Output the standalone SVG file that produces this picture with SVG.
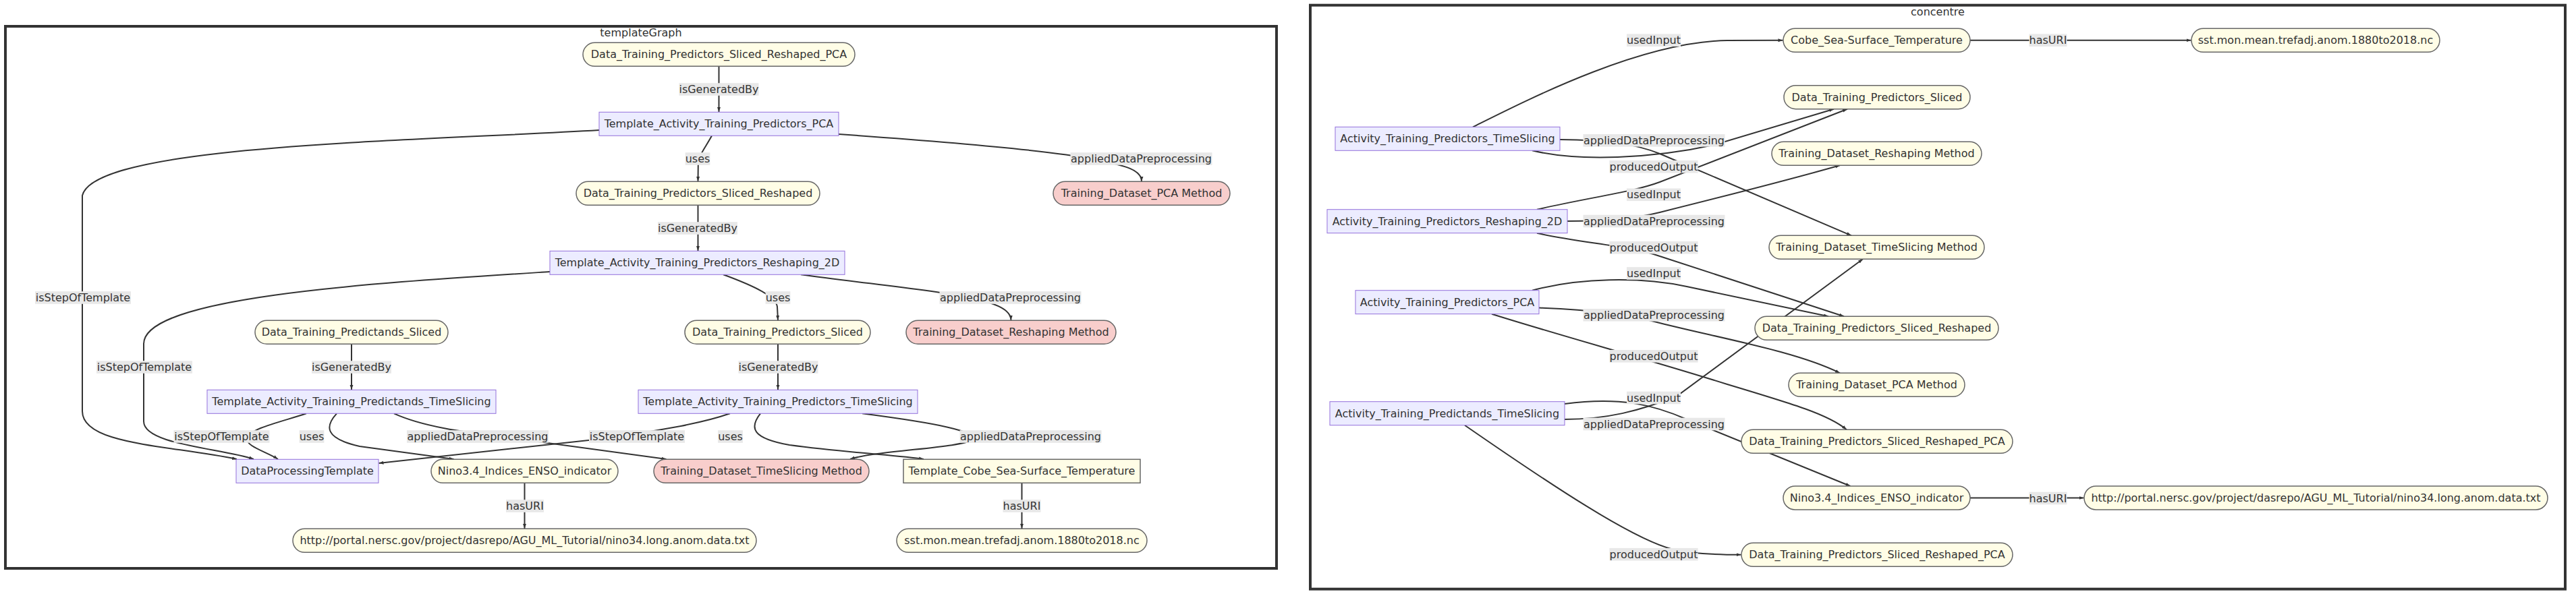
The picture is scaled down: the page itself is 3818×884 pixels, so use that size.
<svg xmlns="http://www.w3.org/2000/svg" width="3818" height="884" viewBox="0 0 3818 884">
<style>
.cluster{fill:#ffffff;stroke:#333333;stroke-width:4px}
.edge{fill:none;stroke:#333333;stroke-width:2px;marker-end:url(#arrow)}
.elbg{fill:#e8e8e8}
text{font-family:"DejaVu Sans",Verdana,sans-serif;font-size:16px;fill:#333333;text-anchor:middle}
.act{fill:#ececff;stroke:#9370db;stroke-width:1px}
.data{fill:#fffde6;stroke:#666666;stroke-width:1.5px}
.method{fill:#f8cecc;stroke:#666666;stroke-width:1.5px}
</style>
<defs>
<marker id="arrow" viewBox="0 0 10 10" refX="10" refY="5" markerUnits="userSpaceOnUse" markerWidth="7" markerHeight="7" orient="auto">
<path d="M0,1.5 L10,5 L0,8.5 z" fill="#333333"/>
</marker>
</defs>
<rect width="3818" height="884" fill="#ffffff"/>
<g id="clusters">
<g id="cluster-templateGraph"><rect class="cluster" x="8" y="39" width="1884" height="804"/><text x="950" y="54">templateGraph</text></g>
<g id="cluster-concentre"><rect class="cluster" x="1942" y="7.7" width="1860" height="866"/><text x="2872" y="22.8">concentre</text></g>
</g>
<g id="connectors">
<path class="edge" d="M1065.5,98.3 L1065.5,166"/>
<path class="edge" d="M1055,201.3 C1045,220 1035,230 1034.8,245 L1034.5,269"/>
<path class="edge" d="M1243,199 C1400,210 1560,224 1620,236 C1670,246 1692,252 1692,269"/>
<path class="edge" d="M888,193 C600,210 140,215 122,290 L122,610 C122,660 250,660 351,681"/>
<path class="edge" d="M1034.5,304.3 L1034.5,372"/>
<path class="edge" d="M815,403 C550,420 213,440 213,510 L213,625 C213,660 330,665 376,681"/>
<path class="edge" d="M1072,407.3 C1120,425 1150,440 1152,455 L1153,475"/>
<path class="edge" d="M1187,407.3 C1280,420 1380,430 1430,440 C1480,450 1498,460 1498.5,475"/>
<path class="edge" d="M521,510.3 L521,578"/>
<path class="edge" d="M1153,510.3 L1153,578"/>
<path class="edge" d="M454,613.3 C420,625 370,635 366,650 C364,662 395,670 412,681"/>
<path class="edge" d="M499,613.3 C482,632 480,650 533,662 L672.5,681"/>
<path class="edge" d="M584,613.3 C625,632 680,640 760,650 L987.5,681"/>
<path class="edge" d="M1082,613.3 C1040,628 990,636 900,650 L561.5,687"/>
<path class="edge" d="M1127,613.3 C1110,635 1115,650 1170,660 C1260,672 1330,675 1369,681"/>
<path class="edge" d="M1278,613.3 C1390,628 1450,640 1440,652 C1430,664 1300,668 1260,681"/>
<path class="edge" d="M777.5,716.3 L777.5,784"/>
<path class="edge" d="M1514.5,716.3 L1514.5,784"/>
<path class="edge" d="M2183,188.3 C2260,150 2430,62 2560,60 L2642.5,59.8"/>
<path class="edge" d="M2920,59.8 L3247.5,59.8"/>
<path class="edge" d="M2312,207 C2380,208 2420,212 2460,228 L2744,349.3"/>
<path class="edge" d="M2271,223.3 C2340,240 2450,235 2540,215 L2718,161.7"/>
<path class="edge" d="M2278,310.7 C2360,292 2420,285 2460,270 L2738,161.7"/>
<path class="edge" d="M2323,328 C2380,328 2420,325 2460,315 C2560,290 2640,270 2727,245.3"/>
<path class="edge" d="M2278,345.7 C2340,360 2420,365 2460,380 L2733,469.3"/>
<path class="edge" d="M2271,430.7 C2340,412 2430,410 2500,425 L2710,469.3"/>
<path class="edge" d="M2281,456.5 C2320,458 2400,462 2452,477 C2540,500 2660,520 2727,553.3"/>
<path class="edge" d="M2211,465.7 C2320,500 2450,535 2560,570 C2660,600 2710,615 2737,637.3"/>
<path class="edge" d="M2319,622 C2380,622 2430,610 2486,587 L2761,384.3"/>
<path class="edge" d="M2319,599 C2400,588 2450,600 2500,622 L2742.5,721"/>
<path class="edge" d="M2171,630.7 C2300,720 2420,800 2480,815 C2510,822 2550,822.8 2580.5,822.8"/>
<path class="edge" d="M2920,738.5 L3088.5,738.5"/>
</g>
<g id="edge-labels">
<g><rect class="elbg" x="1006.5" y="123.2" width="118" height="18.6"/><text x="1065.5" y="138">isGeneratedBy</text></g>
<g><rect class="elbg" x="1015.6" y="226.2" width="36.8" height="18.6"/><text x="1034" y="241">uses</text></g>
<g><rect class="elbg" x="1586.5" y="226.2" width="210" height="18.6"/><text x="1691.5" y="241">appliedDataPreprocessing</text></g>
<g><rect class="elbg" x="975" y="329.2" width="118" height="18.6"/><text x="1034" y="344">isGeneratedBy</text></g>
<g><rect class="elbg" x="52" y="432.2" width="142" height="18.6"/><text x="123" y="447">isStepOfTemplate</text></g>
<g><rect class="elbg" x="1134.6" y="432.2" width="36.8" height="18.6"/><text x="1153" y="447">uses</text></g>
<g><rect class="elbg" x="1392.5" y="432.2" width="210" height="18.6"/><text x="1497.5" y="447">appliedDataPreprocessing</text></g>
<g><rect class="elbg" x="143" y="535.2" width="142" height="18.6"/><text x="214" y="550">isStepOfTemplate</text></g>
<g><rect class="elbg" x="462" y="535.2" width="118" height="18.6"/><text x="521" y="550">isGeneratedBy</text></g>
<g><rect class="elbg" x="1094.5" y="535.2" width="118" height="18.6"/><text x="1153.5" y="550">isGeneratedBy</text></g>
<g><rect class="elbg" x="257.5" y="638.2" width="142" height="18.6"/><text x="328.5" y="653">isStepOfTemplate</text></g>
<g><rect class="elbg" x="443.6" y="638.2" width="36.8" height="18.6"/><text x="462" y="653">uses</text></g>
<g><rect class="elbg" x="603" y="638.2" width="210" height="18.6"/><text x="708" y="653">appliedDataPreprocessing</text></g>
<g><rect class="elbg" x="873" y="638.2" width="142" height="18.6"/><text x="944" y="653">isStepOfTemplate</text></g>
<g><rect class="elbg" x="1064.1" y="638.2" width="36.8" height="18.6"/><text x="1082.5" y="653">uses</text></g>
<g><rect class="elbg" x="1422.5" y="638.2" width="210" height="18.6"/><text x="1527.5" y="653">appliedDataPreprocessing</text></g>
<g><rect class="elbg" x="750" y="741.2" width="56" height="18.6"/><text x="778" y="756">hasURI</text></g>
<g><rect class="elbg" x="1486.5" y="741.2" width="56" height="18.6"/><text x="1514.5" y="756">hasURI</text></g>
<g><rect class="elbg" x="2411" y="50.4" width="80" height="18.6"/><text x="2451" y="65.2">usedInput</text></g>
<g><rect class="elbg" x="3007.5" y="50.4" width="56" height="18.6"/><text x="3035.5" y="65.2">hasURI</text></g>
<g><rect class="elbg" x="2346.5" y="199" width="210" height="18.6"/><text x="2451.5" y="213.8">appliedDataPreprocessing</text></g>
<g><rect class="elbg" x="2385.4" y="237.9" width="131.2" height="18.6"/><text x="2451" y="252.7">producedOutput</text></g>
<g><rect class="elbg" x="2411" y="279.5" width="80" height="18.6"/><text x="2451" y="294.3">usedInput</text></g>
<g><rect class="elbg" x="2346.5" y="318.7" width="210" height="18.6"/><text x="2451.5" y="333.5">appliedDataPreprocessing</text></g>
<g><rect class="elbg" x="2385.4" y="357.9" width="131.2" height="18.6"/><text x="2451" y="372.7">producedOutput</text></g>
<g><rect class="elbg" x="2411" y="396.2" width="80" height="18.6"/><text x="2451" y="411">usedInput</text></g>
<g><rect class="elbg" x="2346.5" y="458" width="210" height="18.6"/><text x="2451.5" y="472.8">appliedDataPreprocessing</text></g>
<g><rect class="elbg" x="2385.4" y="519" width="131.2" height="18.6"/><text x="2451" y="533.8">producedOutput</text></g>
<g><rect class="elbg" x="2411" y="580.7" width="80" height="18.6"/><text x="2451" y="595.5">usedInput</text></g>
<g><rect class="elbg" x="2346.5" y="619.7" width="210" height="18.6"/><text x="2451.5" y="634.5">appliedDataPreprocessing</text></g>
<g><rect class="elbg" x="3007.5" y="729.7" width="56" height="18.6"/><text x="3035.5" y="744.5">hasURI</text></g>
<g><rect class="elbg" x="2385.4" y="812.9" width="131.2" height="18.6"/><text x="2451" y="827.7">producedOutput</text></g>
</g>
<g id="tg-Data_Training_Predictors_Sliced_Reshaped_PCA"><rect class="data" x="864" y="63.3" width="403" height="35" rx="17.5"/><text x="1065.5" y="86.3">Data_Training_Predictors_Sliced_Reshaped_PCA</text></g>
<g id="tg-Template_Activity_Training_Predictors_PCA"><rect class="act" x="888" y="166.3" width="355" height="35"/><text x="1065.5" y="189.3">Template_Activity_Training_Predictors_PCA</text></g>
<g id="tg-Data_Training_Predictors_Sliced_Reshaped"><rect class="data" x="854" y="269.3" width="361" height="35" rx="17.5"/><text x="1034.5" y="292.3">Data_Training_Predictors_Sliced_Reshaped</text></g>
<g id="tg-Training_Dataset_PCA_Method"><rect class="method" x="1561" y="269.3" width="262" height="35" rx="17.5"/><text x="1692" y="292.3">Training_Dataset_PCA Method</text></g>
<g id="tg-Template_Activity_Training_Predictors_Reshaping_2D"><rect class="act" x="815" y="372.3" width="437" height="35"/><text x="1033.5" y="395.3">Template_Activity_Training_Predictors_Reshaping_2D</text></g>
<g id="tg-Data_Training_Predictands_Sliced"><rect class="data" x="378" y="475.3" width="286" height="35" rx="17.5"/><text x="521" y="498.3">Data_Training_Predictands_Sliced</text></g>
<g id="tg-Data_Training_Predictors_Sliced"><rect class="data" x="1015" y="475.3" width="275" height="35" rx="17.5"/><text x="1152.5" y="498.3">Data_Training_Predictors_Sliced</text></g>
<g id="tg-Training_Dataset_Reshaping_Method"><rect class="method" x="1343" y="475.3" width="311" height="35" rx="17.5"/><text x="1498.5" y="498.3">Training_Dataset_Reshaping Method</text></g>
<g id="tg-Template_Activity_Training_Predictands_TimeSlicing"><rect class="act" x="307" y="578.3" width="428" height="35"/><text x="521" y="601.3">Template_Activity_Training_Predictands_TimeSlicing</text></g>
<g id="tg-Template_Activity_Training_Predictors_TimeSlicing"><rect class="act" x="946" y="578.3" width="414" height="35"/><text x="1153" y="601.3">Template_Activity_Training_Predictors_TimeSlicing</text></g>
<g id="tg-DataProcessingTemplate"><rect class="act" x="350" y="681.3" width="211" height="35"/><text x="455.5" y="704.3">DataProcessingTemplate</text></g>
<g id="tg-Nino3.4_Indices_ENSO_indicator"><rect class="data" x="639" y="681.3" width="277" height="35" rx="17.5"/><text x="777.5" y="704.3">Nino3.4_Indices_ENSO_indicator</text></g>
<g id="tg-Training_Dataset_TimeSlicing_Method"><rect class="method" x="969" y="681.3" width="319" height="35" rx="17.5"/><text x="1128.5" y="704.3">Training_Dataset_TimeSlicing Method</text></g>
<g id="tg-Template_Cobe_Sea-Surface_Temperature"><rect class="data" x="1339" y="681.3" width="351" height="35"/><text x="1514.5" y="704.3">Template_Cobe_Sea-Surface_Temperature</text></g>
<g id="tg-nino34_url"><rect class="data" x="434" y="784.3" width="687" height="35" rx="17.5"/><text x="777.5" y="807.3">http://portal.nersc.gov/project/dasrepo/AGU_ML_Tutorial/nino34.long.anom.data.txt</text></g>
<g id="tg-sst_file"><rect class="data" x="1329" y="784.3" width="371" height="35" rx="17.5"/><text x="1514.5" y="807.3">sst.mon.mean.trefadj.anom.1880to2018.nc</text></g>
<g id="cc-Cobe_Sea-Surface_Temperature"><rect class="data" x="2643" y="42.3" width="277" height="35" rx="17.5"/><text x="2781.5" y="65.3">Cobe_Sea-Surface_Temperature</text></g>
<g id="cc-sst_file"><rect class="data" x="3248" y="42.3" width="368" height="35" rx="17.5"/><text x="3432" y="65.3">sst.mon.mean.trefadj.anom.1880to2018.nc</text></g>
<g id="cc-Data_Training_Predictors_Sliced"><rect class="data" x="2644" y="126.7" width="276" height="35" rx="17.5"/><text x="2782" y="149.7">Data_Training_Predictors_Sliced</text></g>
<g id="cc-Training_Dataset_Reshaping_Method"><rect class="data" x="2626" y="210.3" width="311" height="35" rx="17.5"/><text x="2781.5" y="233.3">Training_Dataset_Reshaping Method</text></g>
<g id="cc-Training_Dataset_TimeSlicing_Method"><rect class="data" x="2622" y="349.3" width="319" height="35" rx="17.5"/><text x="2781.5" y="372.3">Training_Dataset_TimeSlicing Method</text></g>
<g id="cc-Data_Training_Predictors_Sliced_Reshaped"><rect class="data" x="2601" y="469.3" width="361" height="35" rx="17.5"/><text x="2781.5" y="492.3">Data_Training_Predictors_Sliced_Reshaped</text></g>
<g id="cc-Training_Dataset_PCA_Method"><rect class="data" x="2651" y="553.3" width="261" height="35" rx="17.5"/><text x="2781.5" y="576.3">Training_Dataset_PCA Method</text></g>
<g id="cc-Data_Training_Predictors_Sliced_Reshaped_PCA"><rect class="data" x="2581" y="637.3" width="402" height="35" rx="17.5"/><text x="2782" y="660.3">Data_Training_Predictors_Sliced_Reshaped_PCA</text></g>
<g id="cc-Nino3.4_Indices_ENSO_indicator"><rect class="data" x="2643" y="721" width="277" height="35" rx="17.5"/><text x="2781.5" y="744">Nino3.4_Indices_ENSO_indicator</text></g>
<g id="cc-nino34_url"><rect class="data" x="3089" y="721" width="687" height="35" rx="17.5"/><text x="3432.5" y="744">http://portal.nersc.gov/project/dasrepo/AGU_ML_Tutorial/nino34.long.anom.data.txt</text></g>
<g id="cc-Data_Training_Predictors_Sliced_Reshaped_PCA_2"><rect class="data" x="2581" y="805.3" width="402" height="35" rx="17.5"/><text x="2782" y="828.3">Data_Training_Predictors_Sliced_Reshaped_PCA</text></g>
<g id="cc-Activity_Training_Predictors_TimeSlicing"><rect class="act" x="1979" y="188.3" width="333" height="35"/><text x="2145.5" y="211.3">Activity_Training_Predictors_TimeSlicing</text></g>
<g id="cc-Activity_Training_Predictors_Reshaping_2D"><rect class="act" x="1967" y="310.7" width="356" height="35"/><text x="2145" y="333.7">Activity_Training_Predictors_Reshaping_2D</text></g>
<g id="cc-Activity_Training_Predictors_PCA"><rect class="act" x="2009" y="430.7" width="272" height="35"/><text x="2145" y="453.7">Activity_Training_Predictors_PCA</text></g>
<g id="cc-Activity_Training_Predictands_TimeSlicing"><rect class="act" x="1971" y="595.7" width="348" height="35"/><text x="2145" y="618.7">Activity_Training_Predictands_TimeSlicing</text></g>
</svg>
